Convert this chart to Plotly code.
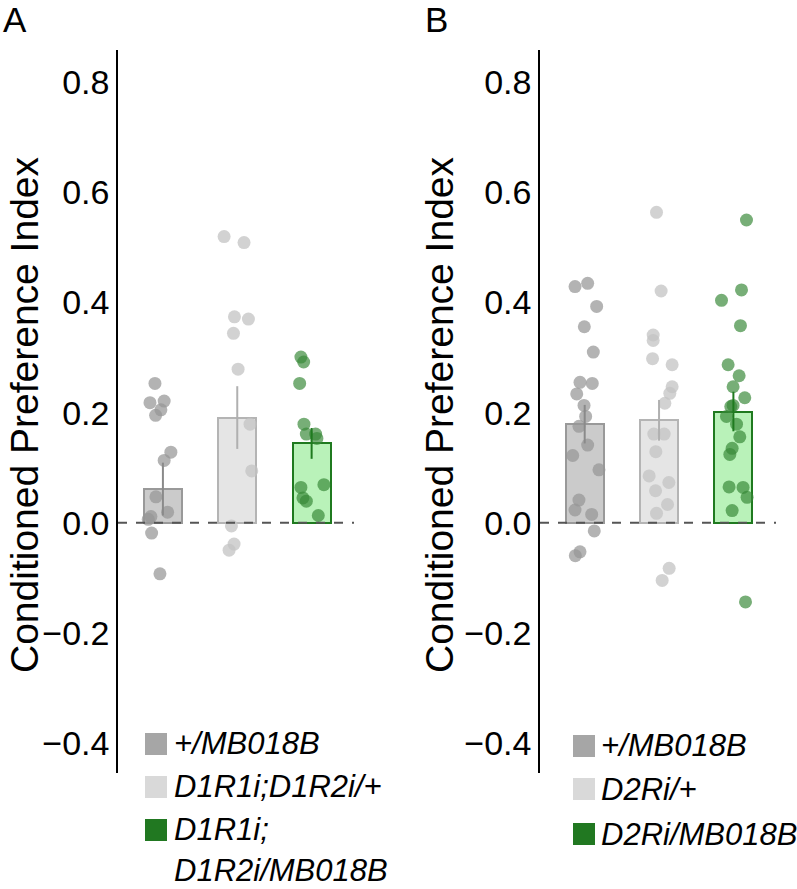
import plotly.graph_objects as go

# ---------------- data ----------------
groups_a = ["+/MB018B", "D1R1i;D1R2i/+", "D1R1i;", "D1R2i/MB018B"]
groups_b = ["+/MB018B", "D2Ri/+", "D2Ri/MB018B"]

a_mean = [0.061, 0.191, 0.144]
a_sem = [0.048, 0.057, 0.028]
b_mean = [0.179, 0.186, 0.202]
b_sem = [0.035, 0.037, 0.036]

a_pts1 = [0.253, 0.218, 0.221, 0.205, 0.195, 0.128, 0.113, 0.047, 0.019, 0.011, 0.006, -0.019, -0.093]
a_jit1 = [-0.107, -0.174, 0.017, -0.027, -0.098, 0.107, 0.017, -0.094, 0.063, -0.161, -0.197, -0.152, -0.04]
a_pts2 = [0.520, 0.509, 0.374, 0.370, 0.344, 0.279, 0.179, 0.094, -0.006, -0.039, -0.050]
a_jit2 = [-0.177, 0.091, -0.038, 0.150, -0.051, 0.011, 0.172, 0.195, -0.078, -0.043, -0.110]
a_pts3 = [0.301, 0.292, 0.253, 0.179, 0.161, 0.161, 0.153, 0.064, 0.069, 0.045, 0.039, 0.013]
a_jit3 = [-0.144, -0.107, -0.161, -0.103, -0.071, 0.054, 0.071, -0.144, 0.165, -0.117, -0.071, 0.090]

b_pts1 = [0.429, 0.435, 0.393, 0.356, 0.310, 0.255, 0.253, 0.234, 0.213, 0.193, 0.175, 0.141,
          0.122, 0.096, 0.041, 0.023, 0.015, -0.015, -0.053, -0.060]
b_jit1 = [-0.130, 0.040, 0.161, -0.005, 0.116, -0.063, 0.102, -0.107, -0.009, 0.013, -0.077, 0.040,
          -0.161, 0.192, -0.077, -0.130, 0.094, 0.129, -0.063, -0.126]
b_pts2 = [0.564, 0.421, 0.341, 0.331, 0.298, 0.287, 0.247, 0.235, 0.217, 0.161, 0.161, 0.129,
          0.085, 0.073, 0.058, 0.033, 0.017, -0.083, -0.105]
b_jit2 = [-0.034, 0.028, -0.079, -0.079, -0.087, 0.176, 0.176, 0.145, 0.078, -0.070, 0.069, -0.043,
          -0.133, 0.132, -0.047, 0.114, -0.034, 0.136, 0.042]
b_pts3 = [0.550, 0.423, 0.404, 0.358, 0.287, 0.267, 0.247, 0.227, 0.213, 0.211, 0.193, 0.179,
          0.156, 0.135, 0.124, 0.065, 0.064, 0.046, 0.022, -0.144]
b_jit3 = [0.176, 0.109, -0.160, 0.095, -0.071, 0.077, -0.004, 0.153, -0.004, -0.035, -0.093, 0.042,
          0.086, -0.017, -0.048, -0.058, 0.130, 0.184, -0.017, 0.163]

ytick_vals = [-0.4, -0.2, 0.0, 0.2, 0.4, 0.6, 0.8]
ytick_text = ["\u22120.4", "\u22120.2", "0.0", "0.2", "0.4", "0.6", "0.8"]
y_title = "Conditioned Preference Index"
panel_labels = ["A", "B"]

# ---------------- styles ----------------
bar_fill = ["#cbcbcb", "#e5e5e5", "#b9f2b9"]
bar_edge = ["#999999", "#b4b4b4", "#1f7a1f"]
pt_col = ["rgba(150,150,150,0.72)", "rgba(195,195,195,0.75)", "rgba(55,135,55,0.68)"]
err_col = ["#8a8a8a", "#b0b0b0", "#1f7a1f"]
leg_col = ["#a6a6a6", "#d9d9d9", "#217821"]
FONT = "Liberation Sans, Arial, Helvetica, sans-serif"

W, H = 797, 889


def px(x):
    return x / W


def py(y):
    return 1 - y / H


fig = go.Figure()

panels = [
    ("x", "y", a_mean, a_sem, [a_pts1, a_pts2, a_pts3], [a_jit1, a_jit2, a_jit3]),
    ("x2", "y2", b_mean, b_sem, [b_pts1, b_pts2, b_pts3], [b_jit1, b_jit2, b_jit3]),
]

for xa, ya, means, sems, pts, jits in panels:
    fig.add_trace(go.Bar(
        x=[0, 1, 2], y=means, width=0.51,
        marker=dict(color=bar_fill, line=dict(color=bar_edge, width=2)),
        xaxis=xa, yaxis=ya, showlegend=False, hoverinfo="skip",
    ))
    for i in range(3):
        fig.add_trace(go.Scatter(
            x=[i + j for j in jits[i]], y=pts[i], mode="markers",
            marker=dict(size=13, color=pt_col[i], line=dict(width=0)),
            xaxis=xa, yaxis=ya, showlegend=False, hoverinfo="skip",
        ))
    for i in range(3):
        fig.add_trace(go.Scatter(
            x=[i], y=[means[i]], mode="markers",
            marker=dict(size=1, color="rgba(0,0,0,0)"),
            error_y=dict(type="data", array=[sems[i]], color=err_col[i], thickness=2, width=0),
            xaxis=xa, yaxis=ya, showlegend=False, hoverinfo="skip",
        ))
    # zero reference line
    fig.add_shape(type="line", xref=f"{xa} domain", yref=ya, x0=0, x1=1, y0=0, y1=0,
                  line=dict(color="#555555", width=2, dash="dash"), layer="above")

yax = dict(range=[-0.455, 0.859], tickvals=ytick_vals, ticktext=ytick_text,
           showline=True, linecolor="black", linewidth=1.5, ticks="",
           showgrid=False, zeroline=False, ticklabelstandoff=0,
           tickfont=dict(family=FONT, size=34, color="black"),
           domain=[py(773), py(50)])
xax = dict(range=[-0.604, 2.57], showticklabels=False, showline=False, ticks="",
           showgrid=False, zeroline=False)

fig.update_layout(
    width=W, height=H, margin=dict(l=0, r=0, t=0, b=0),
    paper_bgcolor="white", plot_bgcolor="white",
    xaxis=dict(xax, domain=[px(118), px(354)]),
    xaxis2=dict(xax, domain=[px(540), px(776)], range=[-0.601, 2.573]),
    yaxis=dict(yax, anchor="x"),
    yaxis2=dict(yax, anchor="x2"),
    font=dict(family=FONT, color="black"),
    bargap=0,
)

ann = []
# y titles
for xc in [24, 439]:
    ann.append(dict(text=y_title, x=px(xc), y=py(415), xref="paper", yref="paper",
                    textangle=-90, showarrow=False, xanchor="center", yanchor="middle",
                    font=dict(family=FONT, size=39, color="black")))
# panel letters
for lab, xl in zip(panel_labels, [1, 423]):
    ann.append(dict(text=lab, x=px(xl), y=py(19), xref="paper", yref="paper",
                    showarrow=False, xanchor="left", yanchor="middle",
                    font=dict(family=FONT, size=35, color="black")))

# legends
leg_rows_a = [743, 786, 829, 870]
for t, yc in zip(groups_a, leg_rows_a):
    ann.append(dict(text=f"<i>{t}</i>", x=px(172), y=py(yc), xref="paper", yref="paper",
                    showarrow=False, xanchor="left", yanchor="middle",
                    font=dict(family=FONT, size=31, color="black")))
leg_rows_b = [745, 789, 834]
for t, yc in zip(groups_b, leg_rows_b):
    ann.append(dict(text=f"<i>{t}</i>", x=px(599), y=py(yc), xref="paper", yref="paper",
                    showarrow=False, xanchor="left", yanchor="middle",
                    font=dict(family=FONT, size=31, color="black")))
fig.update_layout(annotations=ann)

for i, yc in enumerate([744, 787, 830]):
    fig.add_shape(type="rect", xref="paper", yref="paper",
                  x0=px(145), x1=px(167), y0=py(yc - 11), y1=py(yc + 11),
                  fillcolor=leg_col[i], line=dict(width=0))
for i, yc in enumerate([746, 789, 834]):
    fig.add_shape(type="rect", xref="paper", yref="paper",
                  x0=px(573), x1=px(595), y0=py(yc - 11), y1=py(yc + 11),
                  fillcolor=leg_col[i], line=dict(width=0))

fig.write_html(
    "out.html",
    config={"displayModeBar": False},
    post_script="document.body.style.margin='0';document.body.style.overflow='hidden';",
)
